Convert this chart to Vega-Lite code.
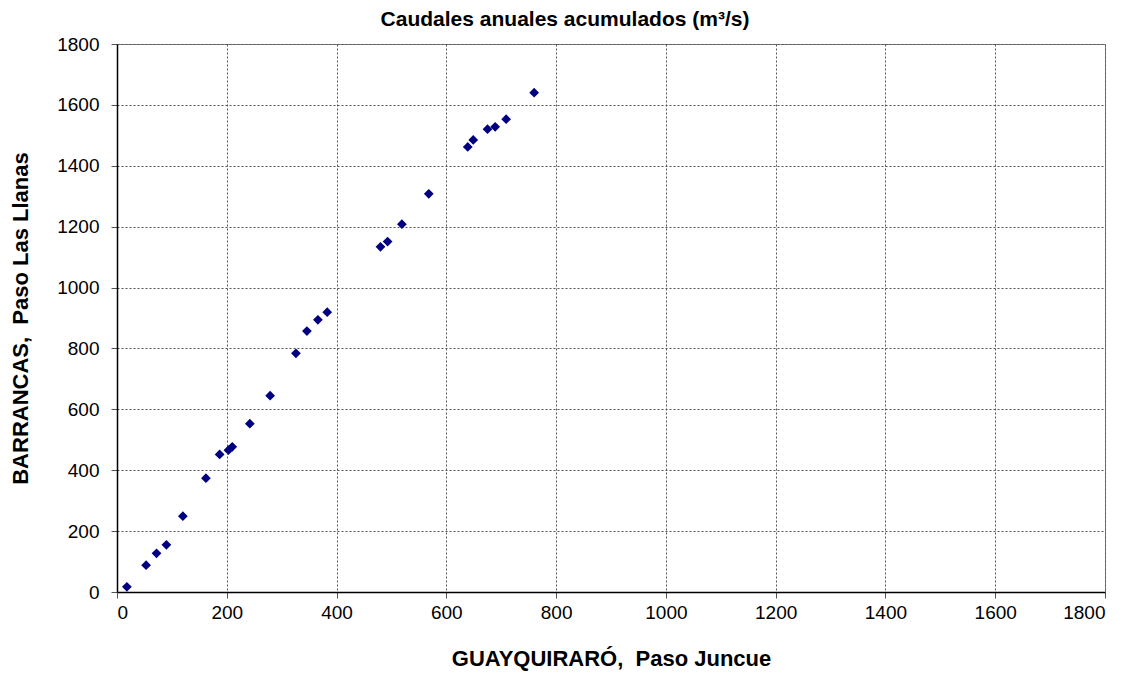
{
  "$schema": "https://vega.github.io/schema/vega-lite/v6.json",
  "width": 988,
  "height": 548,
  "autosize": {"type": "none"},
  "padding": {"left": 117, "top": 44, "right": 33, "bottom": 85},
  "background": "white",
  "title": {
    "text": "Caudales anuales acumulados (m³/s)",
    "font": "Liberation Sans",
    "fontSize": 21,
    "fontWeight": "bold",
    "color": "black",
    "anchor": "middle",
    "dx": -46,
    "offset": 5
  },
  "config": {
    "view": {"stroke": "#808080", "strokeWidth": 1},
    "axis": {
      "labelFont": "Liberation Sans",
      "labelFontSize": 19,
      "labelColor": "black",
      "titleFont": "Liberation Sans",
      "titleFontSize": 22,
      "titleFontWeight": "bold",
      "titleColor": "black",
      "gridColor": "#555555",
      "gridDash": [2, 2],
      "gridWidth": 1,
      "domainColor": "black",
      "domainWidth": 1.5,
      "tickColor": "#555555",
      "tickSize": 6
    }
  },
  "data": {
    "values": [
      {"x": 18, "y": 17},
      {"x": 53, "y": 88},
      {"x": 72, "y": 127},
      {"x": 90, "y": 155},
      {"x": 120, "y": 249},
      {"x": 162, "y": 374},
      {"x": 187, "y": 452},
      {"x": 203, "y": 466},
      {"x": 210, "y": 477},
      {"x": 242, "y": 553},
      {"x": 279, "y": 645},
      {"x": 326, "y": 784},
      {"x": 346, "y": 857},
      {"x": 366, "y": 894},
      {"x": 383, "y": 919},
      {"x": 480, "y": 1134},
      {"x": 493, "y": 1151},
      {"x": 519, "y": 1208},
      {"x": 568, "y": 1308},
      {"x": 639, "y": 1462},
      {"x": 649, "y": 1485},
      {"x": 675, "y": 1520},
      {"x": 689, "y": 1528},
      {"x": 709, "y": 1553},
      {"x": 760, "y": 1640}
    ]
  },
  "mark": {"type": "point", "shape": "diamond", "filled": true, "color": "#000080", "size": 95, "opacity": 1},
  "encoding": {
    "x": {
      "field": "x",
      "type": "quantitative",
      "scale": {"domain": [0, 1800], "nice": false, "zero": true},
      "axis": {"values": [0, 200, 400, 600, 800, 1000, 1200, 1400, 1600, 1800], "format": "d", "title": "GUAYQUIRARÓ,\u00a0 Paso Juncue", "labelPadding": 5, "titlePadding": 26}
    },
    "y": {
      "field": "y",
      "type": "quantitative",
      "scale": {"domain": [0, 1800], "nice": false},
      "axis": {"values": [0, 200, 400, 600, 800, 1000, 1200, 1400, 1600, 1800], "format": "d", "title": "BARRANCAS,\u00a0 Paso Las Llanas", "labelPadding": 12, "titlePadding": 24}
    }
  }
}
